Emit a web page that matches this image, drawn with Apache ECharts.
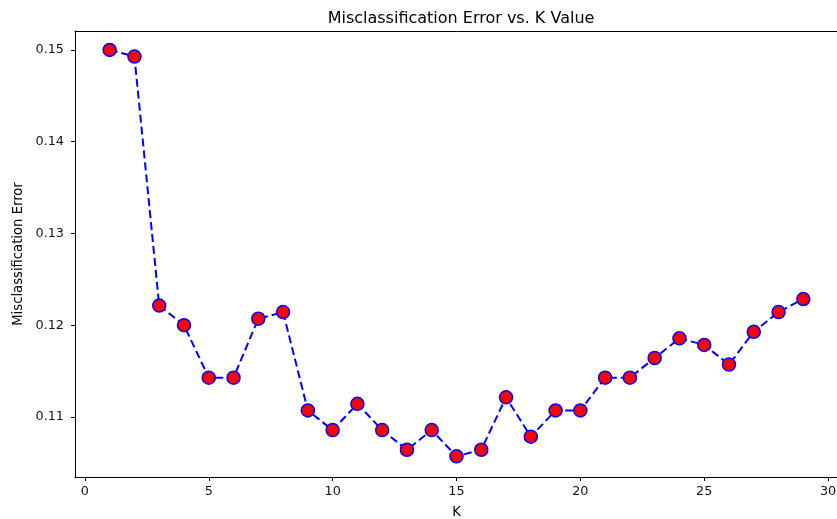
<!DOCTYPE html>
<html>
<head>
<meta charset="utf-8">
<title>Misclassification Error vs. K Value</title>
<script src="https://cdn.jsdelivr.net/npm/echarts@6/dist/echarts.min.js"></script>
<style>
  html, body { margin: 0; padding: 0; background: #ffffff; }
  #chart { width: 837px; height: 519px; }
</style>
</head>
<body>
<div id="chart"></div>
<script>
// Number of neighbours tried
const kValues = [1, 2, 3, 4, 5, 6, 7, 8, 9, 10, 11, 12, 13, 14, 15,
                 16, 17, 18, 19, 20, 21, 22, 23, 24, 25, 26, 27, 28, 29];
// Misclassification error for each K
const errorRates = [0.15, 0.14929, 0.12214, 0.12, 0.11429, 0.11429, 0.12071, 0.12143,
                    0.11071, 0.10857, 0.11143, 0.10857, 0.10643, 0.10857, 0.10571,
                    0.10643, 0.11214, 0.10786, 0.11071, 0.11071, 0.11429, 0.11429,
                    0.11643, 0.11857, 0.11786, 0.11571, 0.11929, 0.12143, 0.12286];
// Tick labels
const xTicks = [0, 5, 10, 15, 20, 25, 30];
const yTicks = [0.11, 0.12, 0.13, 0.14, 0.15];

const FONT = 'DejaVu Sans';
const chart = echarts.init(document.getElementById('chart'), null, { renderer: 'canvas' });

const points = kValues.map((k, i) => [k, errorRates[i]]);

chart.setOption({
  animation: false,
  backgroundColor: '#ffffff',
  title: {
    text: 'Misclassification Error vs. K Value',
    left: 456, textAlign: 'center',
    top: 6,
    textStyle: { fontFamily: FONT, fontSize: 16, fontWeight: 'normal', color: '#000' }
  },
  grid: { left: 75, top: 31, width: 763, height: 446, containLabel: false, outerBoundsMode: 'none' },
  xAxis: [{
    type: 'value',
    min: -0.4, max: 30.4,
    name: 'K', nameLocation: 'middle', nameGap: 29,
    nameTextStyle: { fontFamily: FONT, fontSize: 13.2, color: '#000' },
    axisLine: { show: true, onZero: false, lineStyle: { color: '#000', width: 1 } },
    axisTick: { show: true, length: 4, lineStyle: { color: '#000' }, customValues: xTicks },
    axisLabel: { show: true, margin: 8, fontFamily: FONT, fontSize: 12.8, color: '#111',
                 customValues: xTicks, formatter: v => String(v) },
    splitLine: { show: false }
  }, {
    type: 'value', position: 'top',
    min: -0.4, max: 30.4,
    axisLine: { show: true, onZero: false, lineStyle: { color: '#000', width: 1 } },
    axisTick: { show: false }, axisLabel: { show: false }, splitLine: { show: false }
  }],
  yAxis: [{
    type: 'value',
    min: 0.10346, max: 0.15207,
    name: 'Misclassification Error', nameLocation: 'middle', nameGap: 49,
    nameTextStyle: { fontFamily: FONT, fontSize: 13.2, color: '#000' },
    axisLine: { show: true, onZero: false, lineStyle: { color: '#000', width: 1 } },
    axisTick: { show: true, length: 4, lineStyle: { color: '#000' }, customValues: yTicks },
    axisLabel: { show: true, margin: 11, fontFamily: FONT, fontSize: 12.8, color: '#111',
                 customValues: yTicks, formatter: v => v.toFixed(2) },
    splitLine: { show: false }
  }],
  series: [{
    type: 'line',
    data: points,
    symbol: 'circle',
    symbolSize: 13,
    lineStyle: { color: '#0000ff', width: 2, type: [8, 4] },
    itemStyle: { color: '#ff0000', borderColor: '#0000ff', borderWidth: 1.5 },
    emphasis: { disabled: true }
  }]
});
</script>
</body>
</html>
